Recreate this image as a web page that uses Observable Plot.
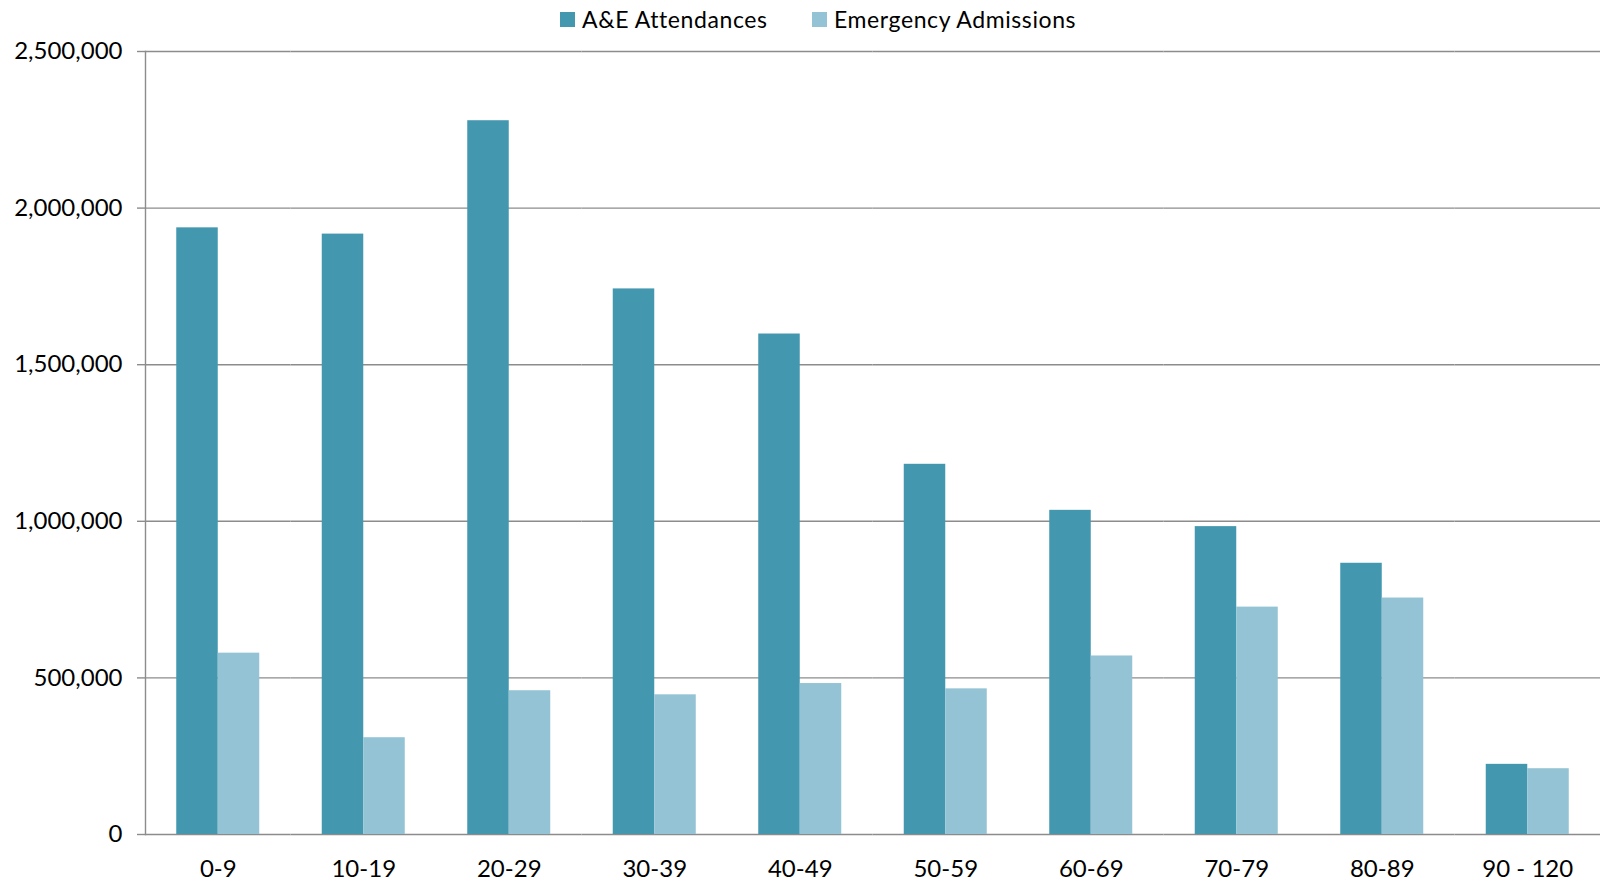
<!DOCTYPE html>
<html><head><meta charset="utf-8">
<script src="https://cdn.jsdelivr.net/npm/d3@7"></script>
<script src="https://cdn.jsdelivr.net/npm/@observablehq/plot@0.6"></script>
<style>
html,body{margin:0;padding:0;background:#fff;}
body{font-family:Lato,"Open Sans",sans-serif;width:1600px;height:881px;overflow:hidden;}
#legend{position:relative;height:36px;}
.item{position:absolute;top:6px;display:flex;align-items:center;font-size:23px;letter-spacing:0.6px;line-height:1.2;color:#000;white-space:nowrap;}
.sw{width:15px;height:15px;margin-right:7px;}
</style></head><body>
<div id="legend"></div>
<div id="chart"></div>
<script>
const categories = ["0-9","10-19","20-29","30-39","40-49","50-59","60-69","70-79","80-89","90 - 120"];
const aeAttendances = [1937000,1917000,2279000,1742000,1598000,1182000,1035000,983000,866000,224000];
const emergencyAdmissions = [579000,309000,459000,446000,482000,465000,570000,726000,755000,210000];
const seriesNames = ["A&E Attendances","Emergency Admissions"];
const seriesColors = ["#4398b0","#93c3d4"];
const yTicks = [0,500000,1000000,1500000,2000000,2500000];
const legendLeft = [560,812];

const data = categories.flatMap((c,i)=>[
  {category:c, series:seriesNames[0], value:aeAttendances[i]},
  {category:c, series:seriesNames[1], value:emergencyAdmissions[i]}
]);

const legend = document.getElementById("legend");
seriesNames.forEach((s,i)=>{
  const it = document.createElement("div");
  it.className="item"; it.style.left = legendLeft[i]+"px";
  const sw = document.createElement("span"); sw.className="sw"; sw.style.background=seriesColors[i];
  const t = document.createElement("span"); t.textContent=s;
  it.appendChild(sw); it.appendChild(t); legend.appendChild(it);
});

const chart = Plot.plot({
  width:1600, height:845,
  marginTop:15, marginBottom:47, marginLeft:145, marginRight:0,
  style:{fontFamily:"Lato, 'Open Sans', sans-serif", fontSize:"24px", color:"#000", background:"#fff"},
  fx:{domain:categories, padding:0, round:false, label:null, axis:"bottom", tickSize:0, tickPadding:25},
  x:{domain:seriesNames, axis:null, round:false, paddingInner:0, paddingOuter:0.753},
  y:{domain:[0,2500000], axis:null},
  color:{domain:seriesNames, range:seriesColors},
  marks:[
    Plot.gridY(yTicks, {stroke:"#8c8c8c", strokeOpacity:1, strokeWidth:1.4}),
    Plot.barY(data, {fx:"category", x:"series", y:"value", fill:"series"}),
    Plot.axisY(yTicks, {tickSize:8, tickPadding:15, tickFormat:d3.format(","), stroke:"#8c8c8c", strokeWidth:1.4, label:null}),
    Plot.frame({anchor:"left", facetAnchor:"left", stroke:"#8c8c8c", strokeWidth:1.4})
  ]
});
document.getElementById("chart").appendChild(chart);
</script>
</body></html>
